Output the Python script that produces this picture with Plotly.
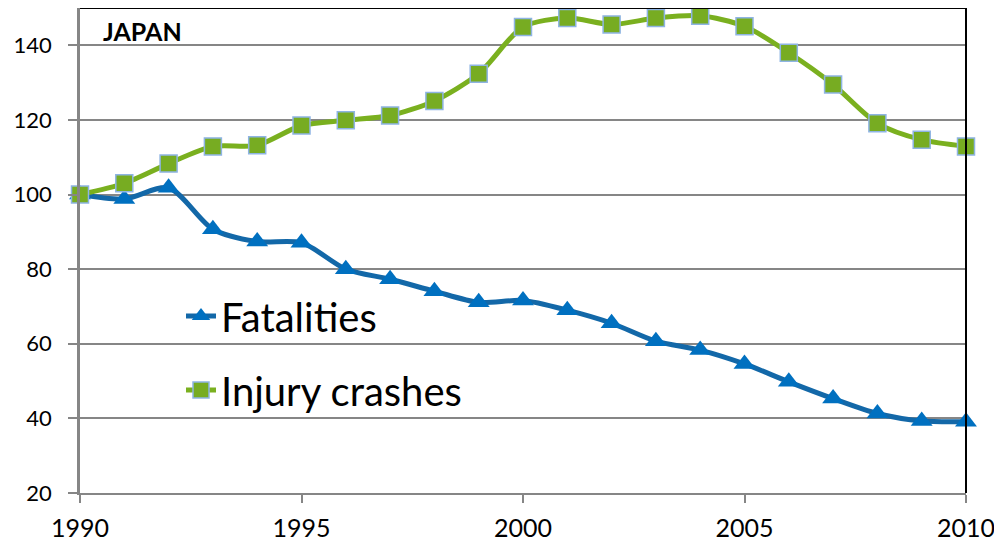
import plotly.graph_objects as go

years = list(range(1990, 2011))
fatalities = [100.0, 98.8, 101.8, 90.7, 87.4, 87.1, 80.0, 77.3, 74.1, 71.1, 71.6,
              69.0, 65.5, 60.7, 58.3, 54.6, 49.8, 45.3, 41.3, 39.3, 39.1]
injury_crashes = [100.0, 103.0, 108.3, 112.9, 113.2, 118.5, 119.9, 121.2, 125.1, 132.4, 144.9,
                  147.3, 145.6, 147.3, 147.9, 145.1, 138.0, 129.5, 119.1, 114.7, 112.9]
series_names = ["Fatalities", "Injury crashes"]
title_text = "JAPAN"

FONT = "Lato"

fig = go.Figure()
fig.add_trace(go.Scatter(
    x=years, y=fatalities, name=series_names[0], mode="lines+markers",
    line=dict(color="#1368A8", width=5, shape="spline", smoothing=0.8),
    marker=dict(symbol="triangle-up", size=19, color="#0070C0", line=dict(width=0)),
    cliponaxis=False, legendgroup="a",
))
fig.add_trace(go.Scatter(
    x=years, y=injury_crashes, name=series_names[1], mode="lines+markers",
    line=dict(color="#7AB01F", width=5, shape="spline", smoothing=0.8),
    marker=dict(symbol="square", size=17, color="#77AC22", line=dict(width=1.5, color="#8EB4E3")),
    cliponaxis=False, legendgroup="b",
))

# page body has an 8px default margin; figure is sized to fit in the 1002x544 window
fig.update_layout(
    width=994, height=536,
    margin=dict(l=72, r=36, t=0, b=51),
    paper_bgcolor="white", plot_bgcolor="white",
    font=dict(family=FONT, color="#000000"),
    showlegend=True,
    legend=dict(x=0.114, y=0.432, xanchor="left", yanchor="top",
                font=dict(size=40, family=FONT, color="#000000"),
                bgcolor="rgba(0,0,0,0)", tracegroupgap=19, traceorder="grouped",
                itemsizing="trace"),
    xaxis=dict(range=[1990, 2010], tickmode="linear", tick0=1990, dtick=5,
               showgrid=False, showline=True, linecolor="#868686", linewidth=2,
               ticks="outside", ticklen=8, tickcolor="#868686", tickwidth=2,
               ticklabelstandoff=4, automargin=False,
               tickfont=dict(size=25, family=FONT, color="#000000"), zeroline=False),
    yaxis=dict(range=[20, 150], tickmode="array", tickvals=[20, 40, 60, 80, 100, 120, 140],
               showgrid=True, gridcolor="#868686", gridwidth=2,
               showline=True, linecolor="#868686", linewidth=2.5,
               ticks="outside", ticklen=9, tickcolor="#868686", tickwidth=2,
               ticklabelstandoff=12, automargin=False,
               tickfont=dict(size=22, family=FONT, color="#000000"), zeroline=False),
    annotations=[dict(text="<b>" + title_text + "</b>", xref="paper", yref="paper",
                      x=0.024, y=0.987, xanchor="left", yanchor="top", showarrow=False,
                      font=dict(size=25, family=FONT, color="#000000"))],
    shapes=[
        dict(type="line", xref="paper", yref="paper", x0=0, x1=1, y0=1, y1=1,
             line=dict(color="#000000", width=2)),
        dict(type="line", xref="paper", yref="paper", x0=1, x1=1, y0=0, y1=1,
             line=dict(color="#000000", width=2)),
    ],
)

fig.write_html("out.html")
